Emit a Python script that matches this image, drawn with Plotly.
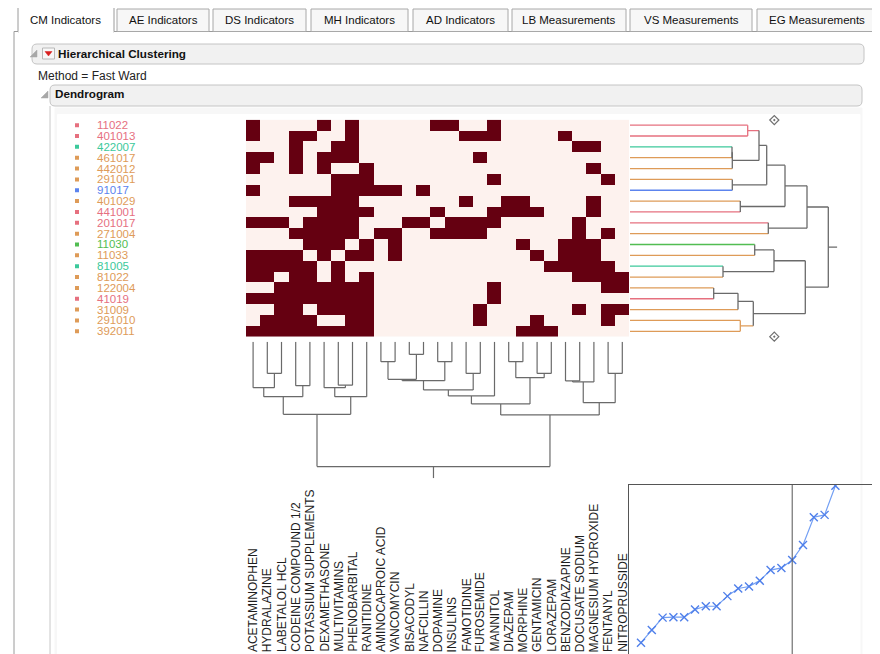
import plotly.graph_objects as go

# ---------------- data ----------------
tab_labels = ["CM Indicators", "AE Indicators", "DS Indicators", "MH Indicators",
              "AD Indicators", "LB Measurements", "VS Measurements", "EG Measurements"]

row_labels = ["11022", "401013", "422007", "461017", "442012", "291001", "91017",
              "401029", "441001", "201017", "271004", "11030", "11033", "81005",
              "81022", "122004", "41019", "31009", "291010", "392011"]
row_groups = ["A", "A", "B", "C", "C", "C", "D", "C", "A", "A",
              "C", "E", "C", "B", "C", "C", "A", "C", "C", "C"]

col_labels = ["ACETAMINOPHEN", "HYDRALAZINE", "LABETALOL HCL", "CODEINE COMPOUND 1/2",
              "POTASSIUM SUPPLEMENTS", "DEXAMETHASONE", "MULTIVITAMINS", "PHENOBARBITAL",
              "RANITIDINE", "AMINOCAPROIC ACID", "VANCOMYCIN", "BISACODYL", "NAFCILLIN",
              "DOPAMINE", "INSULINS", "FAMOTIDINE", "FUROSEMIDE", "MANNITOL", "DIAZEPAM",
              "MORPHINE", "GENTAMICIN", "LORAZEPAM", "BENZODIAZAPINE", "DOCUSATE SODIUM",
              "MAGNESIUM HYDROXIDE", "FENTANYL", "NITROPRUSSIDE"]

# 1 = indicator present (dark cell), one string per row, 27 columns
heat_rows = [
    "100001010" "000011001" "000000000",
    "100110010" "000000111" "000010000",
    "000100110" "000000000" "000001100",
    "110101110" "000000010" "000000000",
    "100101001" "000000000" "000000100",
    "000000111" "000000001" "000000010",
    "100000111" "110100000" "000000000",
    "000111110" "000000100" "110000100",
    "000001111" "000010001" "111000100",
    "111011110" "001101111" "000001000",
    "000111110" "110011110" "000001010",
    "000011101" "010000000" "010011100",
    "111101011" "010000000" "001011100",
    "111110100" "000000000" "000111110",
    "110110101" "000000000" "000001111",
    "001111111" "000000001" "000000011",
    "111111111" "000000001" "000000000",
    "001101111" "000000010" "000001011",
    "011110011" "000000010" "001000010",
    "111111111" "000000000" "011100000",
]

# column clustering: (child a, child b, join distance); new clusters numbered from 27
col_merges = [
    (1, 2, 31.7), (0, 27, 46.0), (3, 4, 44.0), (28, 29, 55.0), (6, 7, 43.5),
    (5, 31, 46.0), (32, 8, 55.0), (30, 33, 72.7), (9, 10, 20.0), (11, 12, 12.7),
    (35, 36, 37.7), (13, 14, 20.0), (37, 38, 39.0), (15, 16, 31.7), (39, 40, 48.3),
    (41, 17, 54.3), (18, 19, 20.0), (20, 21, 31.7), (43, 44, 36.0), (42, 45, 62.3),
    (22, 23, 39.3), (47, 24, 40.3), (25, 26, 31.7), (48, 49, 61.0), (46, 50, 73.3),
    (34, 51, 125.0),
]
col_root_extent = 136.7

# row clustering: (child a, child b, join distance); new clusters numbered from 20
row_merges = [
    (0, 1, 117.7), (2, 3, 102.0), (21, 4, 102.3), (20, 22, 129.0), (5, 6, 102.3),
    (23, 24, 136.7), (7, 8, 110.3), (25, 26, 155.0), (9, 10, 138.3), (27, 28, 177.0),
    (11, 12, 124.7), (13, 14, 93.0), (30, 31, 144.0), (15, 16, 83.7), (33, 17, 108.0),
    (18, 19, 110.3), (34, 35, 123.3), (32, 36, 175.3), (29, 37, 198.3),
]
row_root_extent = 207.3
cluster_cut_distance = 144.3
scree_cut = 15

# ---------------- style ----------------
W, H = 880, 654
OFF = 8  # page body margin: figure drawn 8px right/down in the window
FONT = "Liberation Sans, Arial, sans-serif"
DARK = "#650011"
LIGHT = "#FDF2EE"
LINE = "#6A6A6A"
group_colors = {"A": "#E6707F", "B": "#3CC99B", "C": "#DE9B58", "D": "#5C84EE", "E": "#52BD52"}


def px(x):
    return (x - OFF) / W


def py(y):
    return 1 - (y - OFF) / H


fig = go.Figure()

# ---------------- heatmap ----------------
z = [[int(ch) for ch in r] for r in heat_rows]
nrow, ncol = len(row_labels), len(col_labels)
fig.add_trace(go.Heatmap(
    z=z, x=list(range(ncol)), y=list(range(nrow)),
    colorscale=[[0, LIGHT], [1, DARK]], zmin=0, zmax=1, showscale=False,
    hoverinfo="skip", xaxis="x", yaxis="y"))


# ---------------- dendrogram helper ----------------
def build(n, merges, groups=None):
    pos = [float(i) for i in range(n)]
    hgt = [0.0] * n
    grp = list(groups) if groups else [None] * n
    segs = []
    for a, b, h in merges:
        for c in (a, b):
            segs.append((pos[c], hgt[c], pos[c], h, grp[c]))
        g = grp[a] if (grp[a] is not None and grp[a] == grp[b]) else None
        segs.append((pos[a], h, pos[b], h, g))
        pos.append((pos[a] + pos[b]) / 2)
        hgt.append(h)
        grp.append(g)
    return segs, pos, hgt


# column dendrogram (below heatmap)
csegs, cpos, chgt = build(ncol, col_merges)
xs, ys = [], []
for p0, h0, p1, h1, g in csegs:
    xs += [p0, p1, None]
    ys += [h0, h1, None]
xs += [cpos[-1], cpos[-1], None]
ys += [chgt[-1], col_root_extent, None]
fig.add_trace(go.Scatter(x=xs, y=ys, mode="lines", line=dict(color=LINE, width=1.2),
                         hoverinfo="skip", xaxis="x2", yaxis="y2", showlegend=False))

# row dendrogram (right of heatmap)
rsegs, rpos, rhgt = build(nrow, row_merges, row_groups)
by_color = {}
for p0, h0, p1, h1, g in rsegs:
    col = group_colors[g] if g else LINE
    d = by_color.setdefault(col, ([], []))
    d[0].extend([h0, h1, None])
    d[1].extend([p0, p1, None])
d = by_color.setdefault(LINE, ([], []))
d[0].extend([rhgt[-1], row_root_extent, None])
d[1].extend([rpos[-1], rpos[-1], None])
for col, (xx, yy) in by_color.items():
    fig.add_trace(go.Scatter(x=xx, y=yy, mode="lines", line=dict(color=col, width=1.3),
                             hoverinfo="skip", xaxis="x3", yaxis="y3", showlegend=False))
fig.add_trace(go.Scatter(x=[cluster_cut_distance] * 2, y=[-0.47, nrow - 0.5], mode="markers",
                         marker=dict(symbol="diamond-open-dot", size=7, color="#707070",
                                     line=dict(width=1.2)),
                         cliponaxis=False, hoverinfo="skip", xaxis="x3", yaxis="y3",
                         showlegend=False))

# row label markers
fig.add_trace(go.Scatter(x=[77] * nrow, y=list(range(nrow)), mode="markers",
                         marker=dict(symbol="square", size=4,
                                     color=[group_colors[g] for g in row_groups]),
                         hoverinfo="skip", xaxis="x5", yaxis="y", showlegend=False))

# scree plot
scree = sorted(h for _, _, h in row_merges)
fig.add_trace(go.Scatter(x=list(range(1, len(scree) + 1)), y=scree, mode="lines+markers",
                         line=dict(color="#74A0F4", width=1.2),
                         marker=dict(symbol="x-thin", size=8,
                                     line=dict(color="#4F7FEA", width=1.4)),
                         hoverinfo="skip", xaxis="x4", yaxis="y4", showlegend=False))

# ---------------- axes ----------------
hm_x = [px(246), px(629.4)]
hm_y = [py(336.7), py(119.7)]
hidden = dict(visible=False, showgrid=False, zeroline=False, fixedrange=True)
scr_left, scr_right, step = 629, 876, 10.8
a0 = 1 - (641 - scr_left) / step
# scree vertical scale: px per distance unit, anchored at first point
k, y_first, h_first = 1.37, 642.7, scree[0]
scr_top, scr_bottom = 484.7, H + OFF
fig.update_layout(
    xaxis=dict(domain=hm_x, range=[-0.5, ncol - 0.5], anchor="y", **hidden),
    yaxis=dict(domain=hm_y, range=[nrow - 0.5, -0.5], anchor="x", **hidden),
    xaxis2=dict(domain=hm_x, range=[-0.5, ncol - 0.5], anchor="y2", **hidden),
    yaxis2=dict(domain=[py(478.3), py(341.7)], range=[col_root_extent, 0], anchor="x2", **hidden),
    xaxis3=dict(domain=[px(630), px(837.3)], range=[0, row_root_extent], anchor="y3", **hidden),
    yaxis3=dict(domain=hm_y, range=[nrow - 0.5, -0.5], anchor="x3", **hidden),
    xaxis5=dict(domain=[0, 1], range=[OFF, W + OFF], anchor="y", **hidden),
    xaxis4=dict(domain=[px(scr_left), px(scr_right)],
                range=[a0, a0 + (scr_right - scr_left) / step], anchor="y4",
                showgrid=False, zeroline=False, showticklabels=False, ticks="",
                showline=True, mirror=True, linecolor="#555555", linewidth=1),
    yaxis4=dict(domain=[py(scr_bottom), py(scr_top)],
                range=[h_first - (scr_bottom - y_first) / k, h_first + (y_first - scr_top) / k],
                anchor="x4",
                showgrid=False, zeroline=False, showticklabels=False, ticks="",
                showline=True, mirror=True, linecolor="#555555", linewidth=1),
)

# ---------------- UI chrome ----------------
shapes = []
annos = []
PAD = 2  # annotation inner padding compensation


def rect(x0, y0, x1, y1, fill, line, width=1):
    shapes.append(dict(type="rect", xref="paper", yref="paper", x0=px(x0), x1=px(x1),
                       y0=py(y1), y1=py(y0), fillcolor=fill,
                       line=dict(color=line, width=width), layer="below"))


def rrect(x0, y0, x1, y1, r, fill, line):
    rx, ry = r / W, r / H
    X0, X1, Y0, Y1 = px(x0), px(x1), py(y0), py(y1)
    path = (f"M {X0+rx},{Y0} L {X1-rx},{Y0} Q {X1},{Y0} {X1},{Y0-ry} "
            f"L {X1},{Y1+ry} Q {X1},{Y1} {X1-rx},{Y1} L {X0+rx},{Y1} "
            f"Q {X0},{Y1} {X0},{Y1+ry} L {X0},{Y0-ry} Q {X0},{Y0} {X0+rx},{Y0} Z")
    shapes.append(dict(type="path", xref="paper", yref="paper", path=path,
                       fillcolor=fill, line=dict(color=line, width=1), layer="below"))


def poly(pts, fill, line=None):
    path = "M " + " L ".join(f"{px(x)},{py(y)}" for x, y in pts) + " Z"
    shapes.append(dict(type="path", xref="paper", yref="paper", path=path,
                       fillcolor=fill, line=dict(color=line or fill, width=0.5), layer="above"))


def hline(x0, x1, y, color, width=1):
    shapes.append(dict(type="line", xref="paper", yref="paper", x0=px(x0), x1=px(x1),
                       y0=py(y), y1=py(y), line=dict(color=color, width=width), layer="below"))


def vline(x, y0, y1, color, width=1):
    shapes.append(dict(type="line", xref="paper", yref="paper", x0=px(x), x1=px(x),
                       y0=py(y0), y1=py(y1), line=dict(color=color, width=width), layer="below"))


def text(x, y, s, size=11, color="#222222", bold=False, xanchor="left"):
    xx = x - PAD if xanchor == "left" else x
    annos.append(dict(x=px(xx), y=py(y), xref="paper", yref="paper",
                      text=f"<b>{s}</b>" if bold else s,
                      showarrow=False, xanchor=xanchor, yanchor="middle",
                      font=dict(family=FONT, size=size, color=color)))


# tabs
tab_edges = [(18, 114), (117, 209), (213, 306), (311, 408), (413, 508),
             (512, 626), (630, 752), (757, 876)]
hline(14, 880, 31.5, "#9A9A9A")
vline(14, 31.5, 662, "#9A9A9A")
for i, ((x0, x1), lab) in enumerate(zip(tab_edges, tab_labels)):
    if i == 0:
        rect(x0, 6, x1, 32, "#FFFFFF", "#9A9A9A")
        hline(x0 + 0.5, x1 - 0.5, 32, "#FFFFFF", 2)
    else:
        rect(x0, 9, x1, 31.5, "#F7F7F7", "#A8A8A8")
    text((x0 + x1) / 2, 20, lab, size=11.5, color="#111111", xanchor="center")

# Hierarchical Clustering outline
rrect(32, 44, 864, 64, 5, "#F1F1F1", "#C4C4C4")
poly([(37, 50), (37, 57), (30, 57)], "#A8A8A8")
rect(42.5, 48, 54.5, 59, "#F8F8F8", "#B8B8B8")
poly([(45, 51.5), (52, 51.5), (48.5, 56)], "#D81E1E")
text(58, 53.5, "Hierarchical Clustering", size=11.7, color="#111111", bold=True)
text(38, 76, "Method = Fast Ward", size=12, color="#222222")

# Dendrogram outline
rrect(50, 85, 862, 106, 5, "#F1F1F1", "#C4C4C4")
poly([(48, 91), (48, 98), (41, 98)], "#A8A8A8")
text(55, 93.5, "Dendrogram", size=11.7, color="#111111", bold=True)
vline(50, 106, 662, "#C8C8C8")
rect(55, 108, 862, 662, "#F7F7F7", "#F7F7F7")
rect(57.5, 114.5, 860, 341, "#FFFFFF", "#FFFFFF")
rect(57.5, 341, 860, 662, "#FFFFFF", "#FFFFFF")

# row labels
for i, (lab, g) in enumerate(zip(row_labels, row_groups)):
    annos.append(dict(x=px(97 - PAD), y=i, xref="paper", yref="y", text=lab, showarrow=False,
                      xanchor="left", yanchor="middle",
                      font=dict(family=FONT, size=11.5, color=group_colors[g])))

# column labels (rotated)
for j, lab in enumerate(col_labels):
    annos.append(dict(x=j, y=py(654), xref="x", yref="paper", text=lab, showarrow=False,
                      textangle=-90, xanchor="center", yanchor="bottom",
                      font=dict(family=FONT, size=12, color="#1E1E1E")))

# scree cut line
shapes.append(dict(type="line", xref="x4", yref="y4 domain", x0=scree_cut, x1=scree_cut,
                   y0=0, y1=1, line=dict(color="#555555", width=1)))

fig.update_layout(width=W, height=H, margin=dict(l=0, r=0, t=0, b=0),
                  paper_bgcolor="#FFFFFF", plot_bgcolor="rgba(0,0,0,0)",
                  shapes=shapes, annotations=annos, showlegend=False,
                  font=dict(family=FONT))

fig.write_html("out.html")
